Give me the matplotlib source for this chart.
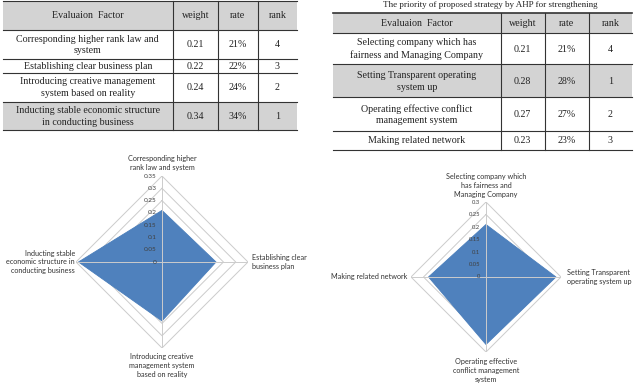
import numpy as np
import matplotlib
matplotlib.use("Agg")
import matplotlib.pyplot as plt
from matplotlib.patches import Rectangle

# ---- data ----
table1_factors = ["Corresponding higher rank law and\nsystem",
                  "Establishing clear business plan",
                  "Introducing creative management\nsystem based on reality",
                  "Inducting stable economic structure\nin conducting business"]
radar1_labels = ["Corresponding higher\nrank law and system",
                 "Establishing clear\nbusiness plan",
                 "Introducing creative\nmanagement system\nbased on reality",
                 "Inducting stable\neconomic structure in\nconducting business"]
weights1 = [0.21, 0.22, 0.24, 0.34]
ranks1 = [4, 3, 2, 1]

table2_factors = ["Selecting company which has\nfairness and Managing Company",
                  "Setting Transparent operating\nsystem up",
                  "Operating effective conflict\nmanagement system",
                  "Making related network"]
radar2_labels = ["Selecting company which\nhas fairness and\nManaging Company",
                 "Setting Transparent\noperating system up",
                 "Operating effective\nconflict management\nsystem",
                 "Making related network"]
weights2 = [0.21, 0.28, 0.27, 0.23]
ranks2 = [4, 1, 2, 3]

header = ["Evaluaion  Factor", "weight", "rate", "rank"]
ticks1 = [0, 0.05, 0.1, 0.15, 0.2, 0.25, 0.3, 0.35]
ticks2 = [0, 0.05, 0.1, 0.15, 0.2, 0.25, 0.3]

W, H = 634, 392
fig = plt.figure(figsize=(W / 100, H / 100), dpi=100)

# overlay axes in pixel coordinates for the tables
bg = fig.add_axes([0, 0, 1, 1])
bg.set_xlim(0, W)
bg.set_ylim(H, 0)
bg.axis("off")

GRAY = "#d3d3d3"
SERIF = "Liberation Serif"


def draw_table(xs, ys, factors, weights, ranks, shaded, top_lw):
    rows = [header] + [[f, "%.2f" % w, "%d%%" % round(w * 100), str(r)]
                       for f, w, r in zip(factors, weights, ranks)]
    for i, row in enumerate(rows):
        y0, y1 = ys[i], ys[i + 1]
        if i in shaded:
            bg.add_patch(Rectangle((xs[0], y0), xs[-1] - xs[0], y1 - y0,
                                   facecolor=GRAY, edgecolor="none"))
        for j, txt in enumerate(row):
            bg.text((xs[j] + xs[j + 1]) / 2, (y0 + y1) / 2 + 0.5, txt,
                    ha="center", va="center", fontsize=7.2, family=SERIF,
                    color="#222222", linespacing=1.35)
    for k, y in enumerate(ys):
        bg.plot([xs[0], xs[-1]], [y, y], color="#333333",
                lw=top_lw if k == 0 else 0.8)
    for x in xs[1:-1]:
        bg.plot([x, x], [ys[0], ys[-1]], color="#333333", lw=0.8)


draw_table([3, 172.7, 218, 257.7, 297], [1, 29.5, 59, 72.7, 101.7, 130],
           table1_factors, weights1, ranks1, shaded=[0, 4], top_lw=0.8)
draw_table([333, 500.7, 544.7, 588.7, 632], [13.3, 32.7, 64.3, 97.3, 130.7, 149.7],
           table2_factors, weights2, ranks2, shaded=[0, 2], top_lw=1.2)

# caption of the right table (cut off at the top in the source)
bg.text(490, 1, "The priority of proposed strategy by AHP for strengthening",
        ha="center", va="top", fontsize=6.5, family=SERIF, color="#222222")


def radar(cx, cy, rpx, rmax, ticks, labels, values, pads, tick_fs):
    rect = [(cx - rpx) / W, 1 - (cy + rpx) / H, 2 * rpx / W, 2 * rpx / H]
    ax = fig.add_axes(rect, projection="polar")
    ax.set_theta_offset(np.pi / 2)
    ax.set_theta_direction(-1)
    ax.set_ylim(0, rmax)
    ax.axis("off")
    ang = np.arange(len(values)) * 2 * np.pi / len(values)
    closed = np.append(ang, ang[0])
    for t in ticks[1:]:
        ax.plot(closed, [t] * len(closed), color="#cccccc", lw=0.7, zorder=1)
    ax.fill(closed, np.append(values, values[0]), facecolor="#4f81bd",
            edgecolor="#4a7ebb", lw=0.6, zorder=2)
    for a in ang:
        ax.plot([a, a], [0, rmax], color="#cccccc", lw=0.7, zorder=3)
    for t in ticks:
        ax.annotate("%g" % t, xy=(0, t), xytext=(-4, 0), textcoords="offset points",
                    ha="right", va="center", fontsize=tick_fs, family="Lato",
                    color="#404040", zorder=4)
    scale = rpx / rmax
    aligns = [("center", "bottom"), ("left", "center"),
              ("center", "top"), ("right", "center")]
    for a, lab, pad, (ha, va) in zip(ang, labels, pads, aligns):
        ax.text(a, rmax + pad / scale, lab, ha=ha, va=va, fontsize=5.2,
                family="Lato", color="#333333", linespacing=1.3,
                clip_on=False)


radar(162, 262, 86, 0.35, ticks1, radar1_labels, weights1,
      pads=[5, 4, 5, 1], tick_fs=4.6)
radar(486, 277, 75, 0.3, ticks2, radar2_labels, weights2,
      pads=[4, 6, 6, 4], tick_fs=4.2)

fig.savefig("out.png", dpi=100)
